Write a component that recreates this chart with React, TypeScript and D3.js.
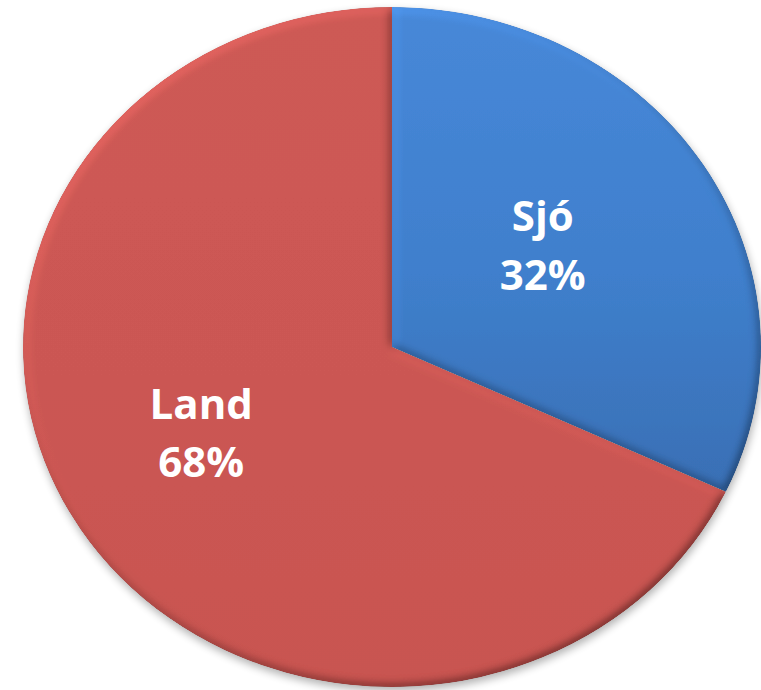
import React from "react";
import * as d3 from "d3";

const categories = ["Sjó", "Land"];
const values = [32, 68];
const percentLabels = ["32%", "68%"];
const colors = ["#3F7FCC", "#CB5753"];
const colorsLight = ["#4788D8", "#CD5955"];
const colorsDark = ["#396FB4", "#C85450"];

const W = 761;
const H = 690;
const cx = 392;
const cy = 347;
const R = 369;
const ry = 340;

export default function App() {
  const data = categories.map((c, i) => ({ name: c, value: values[i], pct: percentLabels[i], i }));
  const pie = d3
    .pie<any>()
    .sort(null)
    .value((d: any) => d.value)
    .startAngle(0)
    .endAngle(2 * Math.PI);
  const arcs = pie(data);
  const arc = d3.arc<any>().innerRadius(0).outerRadius(R);
  const labelArc = d3.arc<any>().innerRadius(R * 0.5).outerRadius(R * 0.5);
  const sy = ry / R;
  const labelOffsets = [
    { dx: -5, dy: -10 },
    { dx: -35, dy: -5 },
  ];

  return (
    <svg
      width={W}
      height={H}
      style={{ position: "absolute", left: 0, top: 0, display: "block" }}
    >
      <defs>
        <filter id="bevel" x="-5%" y="-5%" width="110%" height="110%">
          <feGaussianBlur in="SourceAlpha" stdDeviation="5" result="blur" />
          <feDiffuseLighting in="blur" surfaceScale="4" diffuseConstant="1" lightingColor="#ffffff" result="light">
            <feDistantLight azimuth="235" elevation="55" />
          </feDiffuseLighting>
          <feComposite in="SourceGraphic" in2="light" operator="arithmetic" k1="1.22" k2="0" k3="0" k4="0" result="lit" />
          <feComposite in="lit" in2="SourceAlpha" operator="in" />
        </filter>
        <filter id="shadow" x="-10%" y="-10%" width="120%" height="120%">
          <feGaussianBlur stdDeviation="4" />
        </filter>
        {data.map((d) => (
          <linearGradient key={d.i} id={`grad${d.i}`} x1="0" y1="0" x2="0" y2="1">
            <stop offset="0%" stopColor={colorsLight[d.i]} />
            <stop offset="55%" stopColor={colors[d.i]} />
            <stop offset="100%" stopColor={colorsDark[d.i]} />
          </linearGradient>
        ))}
      </defs>
      <ellipse cx={cx + 1} cy={cy + 4} rx={R} ry={ry} fill="#000" opacity={0.3} filter="url(#shadow)" />
      <g transform={`translate(${cx},${cy}) scale(1,${sy})`}>
        {arcs.map((a: any) => (
          <path key={a.data.name} d={arc(a) as string} fill={`url(#grad${a.data.i})`} filter="url(#bevel)" />
        ))}
      </g>
      {arcs.map((a: any, k: number) => {
        const [lx, ly] = labelArc.centroid(a);
        const x = cx + lx + labelOffsets[k].dx;
        const y = cy + ly * sy + labelOffsets[k].dy;
        return (
          <text
            key={a.data.name}
            x={x}
            y={y}
            textAnchor="middle"
            fill="#ffffff"
            fontFamily="'Open Sans', sans-serif"
            fontWeight="bold"
            fontSize={42}
          >
            <tspan x={x} dy={-14.5}>{a.data.name}</tspan>
            <tspan x={x} dy={58.5}>{a.data.pct}</tspan>
          </text>
        );
      })}
    </svg>
  );
}
